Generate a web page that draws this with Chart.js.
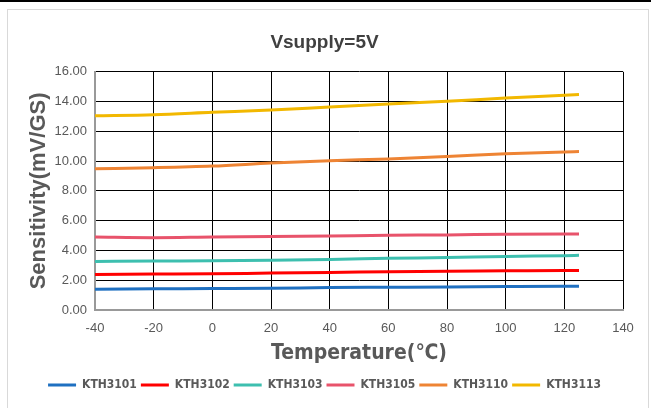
<!DOCTYPE html>
<html>
<head>
<meta charset="utf-8">
<script src="https://cdn.jsdelivr.net/npm/chart.js@4.4.1/dist/chart.umd.min.js"></script>
<style>
    body { margin: 0; background: #fff; }
    #topbar { position: absolute; left: 0; top: 0; width: 651px; height: 2px; background: #000; }
    #frame { position: absolute; left: 7px; top: 9px; width: 640px; height: 420px; border: 1px solid #d9d9d9; }
    #wrap { position: absolute; left: 0; top: 0; width: 651px; height: 408px; }
</style>
</head>
<body>
<div id="topbar"></div>
<div id="frame"></div>
<div id="wrap"><canvas id="grafSens"></canvas></div>
<script>
// dados
const temperaturas = [-40, -20, 0, 20, 40, 60, 80, 100, 120, 125];
const kth3101 = [1.40, 1.42, 1.44, 1.46, 1.51, 1.53, 1.55, 1.58, 1.60, 1.60];
const kth3102 = [2.39, 2.41, 2.43, 2.48, 2.52, 2.57, 2.61, 2.63, 2.66, 2.66];
const kth3103 = [3.26, 3.29, 3.31, 3.35, 3.40, 3.47, 3.53, 3.60, 3.65, 3.67];
const kth3105 = [4.90, 4.86, 4.90, 4.93, 4.97, 5.02, 5.04, 5.09, 5.10, 5.10];
const kth3110 = [9.49, 9.56, 9.67, 9.87, 10.03, 10.15, 10.31, 10.49, 10.62, 10.64];
const kth3113 = [13.05, 13.12, 13.28, 13.43, 13.64, 13.84, 14.02, 14.24, 14.42, 14.47];
const nomes = ['KTH3101', 'KTH3102', 'KTH3103', 'KTH3105', 'KTH3110', 'KTH3113'];
const cores = ['#1f70c1', '#ff0000', '#3dbfaf', '#e8536b', '#ee8434', '#f2b800'];
const xTicks = [-40, -20, 0, 20, 40, 60, 80, 100, 120, 140];
const yTicks = [0, 2, 4, 6, 8, 10, 12, 14, 16];

const series = [kth3101, kth3102, kth3103, kth3105, kth3110, kth3113];

const fonteCinza = '#595959';
const fonteEstreita = "'DejaVu Sans Condensed', 'Liberation Sans', sans-serif";

let dadosSens = {
    datasets: series.map((vals, i) => ({
        label: nomes[i],
        data: vals.map((v, j) => ({ x: temperaturas[j], y: v })),
        borderColor: cores[i],
        backgroundColor: cores[i],
        borderWidth: 3,
        pointRadius: 0,
        showLine: true,
        cubicInterpolationMode: 'monotone'
    }))
};

const configSens = {
    type: 'scatter',
    data: dadosSens,
    options: {
        responsive: false,
        animation: false,
        layout: {
            padding: { left: 26, right: 28, top: 10, bottom: 7 }
        },
        scales: {
            x: {
                type: 'linear',
                min: -40,
                max: 140,
                afterBuildTicks: (scale) => { scale.ticks = xTicks.map(v => ({ value: v })); },
                afterFit: (scale) => { scale.height = 65; },
                grid: { color: '#000', drawTicks: false },
                border: { color: '#999', width: 2 },
                ticks: {
                    color: fonteCinza,
                    padding: 11,
                    font: { size: 13, family: "'Liberation Sans', Arial, sans-serif" }
                },
                title: {
                    display: true,
                    text: 'Temperature(℃)',
                    color: fonteCinza,
                    padding: { top: 0, bottom: 9 },
                    font: { size: 21, weight: 'bold', family: fonteEstreita }
                }
            },
            y: {
                min: 0,
                max: 16,
                afterBuildTicks: (scale) => { scale.ticks = yTicks.map(v => ({ value: v })); },
                afterFit: (scale) => { scale.width = 69; },
                grid: { color: '#000', drawTicks: false },
                border: { color: '#999', width: 2 },
                ticks: {
                    color: fonteCinza,
                    padding: 8,
                    callback: (v) => v.toFixed(2),
                    font: { size: 13, family: "'Liberation Sans', Arial, sans-serif" }
                },
                title: {
                    display: true,
                    text: 'Sensitivity(mV/GS)',
                    color: fonteCinza,
                    padding: { top: 0, bottom: 0 },
                    font: { size: 22, weight: 'bold', family: "'Liberation Sans', Arial, sans-serif" }
                }
            }
        },
        plugins: {
            title: {
                display: true,
                text: 'Vsupply=5V',
                color: '#404040',
                padding: { top: 21, bottom: 18 },
                font: { size: 19, weight: 'bold', family: "'Liberation Sans', sans-serif" }
            },
            legend: {
                position: 'bottom',
                labels: {
                    color: fonteCinza,
                    usePointStyle: true,
                    pointStyle: 'line',
                    pointStyleWidth: 28,
                    padding: 4,
                    font: { size: 12, weight: 'bold', family: fonteEstreita }
                }
            },
            tooltip: { enabled: false }
        }
    }
};

const ctxSens = document.getElementById('grafSens').getContext('2d');
ctxSens.canvas.width = 651;
ctxSens.canvas.height = 408;
new Chart(ctxSens, configSens);
</script>
</body>
</html>
